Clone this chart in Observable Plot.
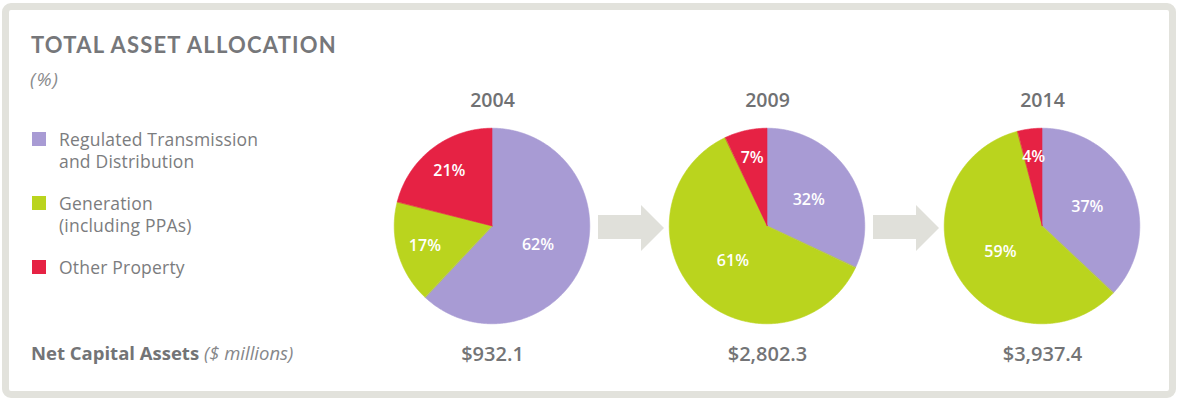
<!DOCTYPE html>
<html><head><meta charset="utf-8">
<script src="https://cdn.jsdelivr.net/npm/d3@7"></script>
<script src="https://cdn.jsdelivr.net/npm/@observablehq/plot@0.6"></script>
<style>
html,body{margin:0;padding:0;background:#fff;}
body{width:1180px;height:403px;position:relative;overflow:hidden;font-family:"Open Sans",sans-serif;}
#frame{position:absolute;left:2px;top:3px;width:1160px;height:381px;border:7px solid #e2e2dc;border-radius:9px;}
#chart{position:absolute;left:0;top:0;}
#title{position:absolute;left:31px;top:31px;font:700 22px Lato,"Open Sans",sans-serif;letter-spacing:1.2px;color:#76777a;white-space:nowrap;}
#unit{position:absolute;left:30px;top:66px;font:italic 400 19px "Open Sans",sans-serif;letter-spacing:1px;color:#8a8b8d;}
#legend{position:absolute;left:32px;top:0;}
.item{position:absolute;left:0;width:300px;}
.sw{position:absolute;left:0;top:0;width:14px;height:14px;}
.lt{position:absolute;left:27px;top:-4px;font:400 17.5px/22px "Open Sans",sans-serif;color:#7b7c7e;letter-spacing:0.2px;white-space:nowrap;}
#net{position:absolute;left:31px;top:340px;font:700 18.5px "Open Sans",sans-serif;color:#737476;white-space:nowrap;}
#net i{font-weight:400;color:#86878a;}
.arrow{position:absolute;top:205px;}
</style></head>
<body>
<div id="frame"></div>
<div id="chart"></div>
<div id="title">TOTAL ASSET ALLOCATION</div>
<div id="unit">(%)</div>
<div id="legend"></div>
<div id="net">Net Capital Assets <i>($ millions)</i></div>
<svg class="arrow" style="left:598px" width="67" height="47"><polygon points="0,10 43,10 43,0 66,23 43,46 43,34 0,34" fill="#e0e0da"/></svg>
<svg class="arrow" style="left:873px" width="67" height="47"><polygon points="0,10 43,10 43,0 66,23 43,46 43,34 0,34" fill="#e0e0da"/></svg>
<script>
// ---- data ----
const years = ["2004", "2009", "2014"];
const categories = ["Regulated Transmission and Distribution", "Generation (including PPAs)", "Other Property"];
const legendLines = [["Regulated Transmission", "and Distribution"], ["Generation", "(including PPAs)"], ["Other Property"]];
const colors = ["#a89bd4", "#bad41e", "#e62244"];
const regulated = [62, 32, 37];
const generation = [17, 61, 59];
const other = [21, 7, 4];
const netCapitalAssets = ["$932.1", "$2,802.3", "$3,937.4"];

// ---- legend (HTML) ----
const legendTops = [132, 196, 260];
const legend = document.getElementById("legend");
categories.forEach((c, i) => {
  const d = document.createElement("div");
  d.className = "item";
  d.style.top = legendTops[i] + "px";
  d.innerHTML = `<div class="sw" style="background:${colors[i]}"></div><div class="lt">${legendLines[i].join("<br>")}</div>`;
  legend.appendChild(d);
});

// ---- pie geometry from data ----
const series = [regulated, generation, other];
const pie = d3.pie().sort(null).value(d => d.value);
const slicePts = [];
const labels = [];
years.forEach((yr, yi) => {
  const rows = categories.map((c, ci) => ({year: yr, category: c, value: series[ci][yi]}));
  pie(rows).forEach(a => {
    const key = yr + "|" + a.data.category;
    const n = Math.max(2, Math.ceil((a.endAngle - a.startAngle) / (Math.PI / 360)));
    for (let k = 0; k <= n; k++) {
      const t = a.startAngle + (a.endAngle - a.startAngle) * k / n;
      slicePts.push({year: yr, key, category: a.data.category, x: Math.sin(t), y: Math.cos(t), cx: 0, cy: 0});
    }
    const mid = (a.startAngle + a.endAngle) / 2;
    const frac = a.data.value / 100;
    const r = frac >= 0.3 ? 0.5 : 0.72;
    labels.push({year: yr, x: r * Math.sin(mid), y: r * Math.cos(mid), text: a.data.value + "%"});
  });
});
const yearRows = years.map((y, i) => ({year: y, asset: netCapitalAssets[i]}));

const chart = Plot.plot({
  width: 1180,
  height: 403,
  marginLeft: 354.5,
  marginRight: 0.5,
  marginTop: 116,
  marginBottom: 67,
  style: {fontFamily: "'Open Sans', sans-serif", background: "transparent", overflow: "visible"},
  fx: {domain: years, paddingInner: 0.2, paddingOuter: 0.1, axis: null},
  x: {domain: [-1.125, 1.125], axis: null},
  y: {domain: [-1.125, 1.125], axis: null},
  color: {domain: categories, range: colors},
  marks: [
    Plot.area(slicePts, {fx: "year", x1: "x", y1: "y", x2: "cx", y2: "cy", z: "key", fill: "category", stroke: "category", strokeWidth: 0.6}),
    Plot.text(labels, {fx: "year", x: "x", y: "y", text: "text", fill: "white", fontSize: 16, fontWeight: 600}),
    Plot.text(yearRows, {fx: "year", text: "year", frameAnchor: "top", lineAnchor: "middle", dy: -16, fill: "#707173", fontSize: 19.5, fontWeight: 600}),
    Plot.text(yearRows, {fx: "year", text: "asset", frameAnchor: "bottom", lineAnchor: "middle", dy: 18, fill: "#737476", fontSize: 20, fontWeight: 600})
  ]
});
document.getElementById("chart").appendChild(chart);
</script>
</body></html>
